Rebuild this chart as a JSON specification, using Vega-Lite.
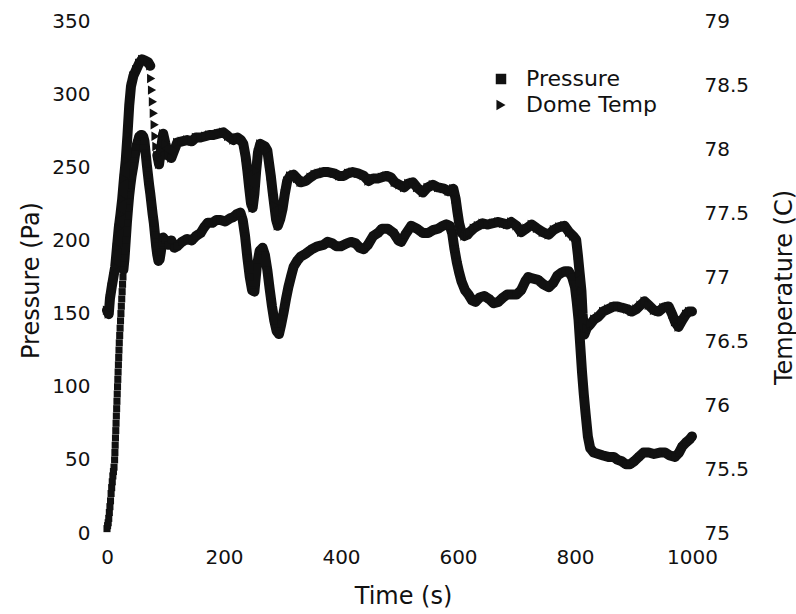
{
  "$schema": "https://vega.github.io/schema/vega-lite/v6.json",
  "width": 585,
  "height": 512,
  "autosize": {"type": "none"},
  "padding": {"left": 107, "top": 21, "right": 104, "bottom": 81},
  "background": "white",
  "config": {
    "view": {"stroke": null},
    "font": "DejaVu Sans",
    "axis": {
      "domain": false,
      "ticks": false,
      "grid": false,
      "labelFlush": false,
      "labelFont": "DejaVu Sans",
      "labelFontSize": 20,
      "labelColor": "#111",
      "titleFont": "DejaVu Sans",
      "titleFontSize": 24,
      "titleFontWeight": "normal",
      "titleColor": "#111"
    }
  },
  "datasets": {
    "pressure": [
      {"t":0,"p":3},{"t":1,"p":5},{"t":2,"p":7},{"t":3,"p":10},{"t":4,"p":14},{"t":5,"p":18},{"t":6,"p":22},{"t":7,"p":27},{"t":8,"p":31},{"t":9,"p":35},{"t":10,"p":39},{"t":11,"p":42},{"t":12,"p":45},
      {"t":13,"p":50},{"t":13.5,"p":55},{"t":14,"p":60},{"t":14.5,"p":65},{"t":15,"p":70},{"t":15.5,"p":75},{"t":16,"p":80},{"t":16.5,"p":85},{"t":17,"p":90},{"t":17.5,"p":95},{"t":18,"p":100},{"t":18.5,"p":105},{"t":19,"p":110},{"t":19.5,"p":115},{"t":20,"p":120},{"t":20.5,"p":125},{"t":21,"p":130},{"t":21.7,"p":135},{"t":22.4,"p":140},{"t":23.1,"p":145},{"t":23.8,"p":150},{"t":24.5,"p":155},{"t":25.2,"p":160},{"t":25.9,"p":165},{"t":26.6,"p":170},{"t":27.3,"p":175},{"t":28,"p":180},
      {"t":30,"p":188},{"t":32,"p":200},{"t":34,"p":212},{"t":36,"p":222},{"t":38,"p":231},{"t":40,"p":238},{"t":42,"p":244},{"t":45,"p":251},{"t":48,"p":259},{"t":50,"p":264},{"t":53,"p":268},{"t":55,"p":271},{"t":58,"p":272},{"t":60,"p":272},{"t":62,"p":271},{"t":64,"p":268},{"t":66,"p":260},{"t":68,"p":252},{"t":70,"p":245},{"t":72,"p":238},{"t":74,"p":232},{"t":76,"p":225},{"t":78,"p":218},{"t":80,"p":212},{"t":82,"p":204},{"t":84,"p":196},{"t":86,"p":190},{"t":88,"p":186},{"t":90,"p":187},{"t":92,"p":192},{"t":94,"p":198},{"t":96,"p":202},{"t":100,"p":200},{"t":105,"p":197},{"t":110,"p":200},{"t":115,"p":195},{"t":120,"p":196},{"t":128,"p":199},{"t":137,"p":201},{"t":145,"p":200},{"t":152,"p":203},{"t":160,"p":205},{"t":166,"p":209},{"t":172,"p":212},{"t":180,"p":212},{"t":187,"p":214},{"t":194,"p":214},{"t":202,"p":213},{"t":210,"p":215},{"t":216,"p":216},{"t":222,"p":218},{"t":228,"p":219},{"t":232,"p":214},{"t":236,"p":203},{"t":240,"p":188},{"t":244,"p":175},{"t":248,"p":166},{"t":252,"p":165},{"t":256,"p":182},{"t":261,"p":193},{"t":266,"p":195},{"t":270,"p":190},{"t":274,"p":180},{"t":278,"p":167},{"t":282,"p":155},{"t":286,"p":145},{"t":290,"p":138},{"t":294,"p":136},{"t":298,"p":143},{"t":302,"p":151},{"t":306,"p":160},{"t":310,"p":168},{"t":315,"p":176},{"t":319,"p":182},{"t":325,"p":186},{"t":331,"p":189},{"t":340,"p":191},{"t":350,"p":194},{"t":360,"p":196},{"t":370,"p":197},{"t":377,"p":199},{"t":385,"p":198},{"t":392,"p":196},{"t":400,"p":196},{"t":410,"p":198},{"t":417,"p":199},{"t":425,"p":198},{"t":432,"p":195},{"t":439,"p":194},{"t":446,"p":197},{"t":455,"p":203},{"t":463,"p":205},{"t":470,"p":208},{"t":480,"p":208},{"t":490,"p":205},{"t":498,"p":200},{"t":503,"p":199},{"t":510,"p":204},{"t":520,"p":210},{"t":530,"p":208},{"t":540,"p":205},{"t":549,"p":205},{"t":557,"p":207},{"t":566,"p":208},{"t":574,"p":210},{"t":580,"p":211},{"t":586,"p":210},{"t":590,"p":205},{"t":594,"p":194},{"t":598,"p":185},{"t":602,"p":178},{"t":606,"p":172},{"t":612,"p":166},{"t":618,"p":163},{"t":624,"p":159},{"t":630,"p":158},{"t":637,"p":161},{"t":645,"p":162},{"t":653,"p":160},{"t":661,"p":157},{"t":669,"p":158},{"t":677,"p":161},{"t":684,"p":163},{"t":691,"p":163},{"t":700,"p":163},{"t":708,"p":166},{"t":715,"p":172},{"t":720,"p":175},{"t":727,"p":174},{"t":737,"p":173},{"t":746,"p":170},{"t":755,"p":168},{"t":763,"p":171},{"t":770,"p":176},{"t":777,"p":178},{"t":783,"p":179},{"t":789,"p":179},{"t":795,"p":175},{"t":800,"p":168},{"t":803,"p":158},{"t":806,"p":146},{"t":809,"p":128},{"t":812,"p":110},{"t":815,"p":95},{"t":818,"p":82},{"t":822,"p":66},{"t":826,"p":58},{"t":832,"p":55},{"t":840,"p":54},{"t":848,"p":53},{"t":857,"p":52},{"t":866,"p":52},{"t":873,"p":50},{"t":880,"p":49},{"t":887,"p":47},{"t":894,"p":47},{"t":901,"p":49},{"t":909,"p":52},{"t":917,"p":55},{"t":926,"p":55},{"t":935,"p":54},{"t":945,"p":55},{"t":954,"p":55},{"t":962,"p":53},{"t":971,"p":52},{"t":978,"p":55},{"t":983,"p":59},{"t":990,"p":62},{"t":996,"p":64},{"t":1000,"p":66}
    ],
    "temp": [
      {"t":0,"c":76.74},{"t":3,"c":76.71},{"t":5,"c":76.83},{"t":8,"c":76.92},{"t":11,"c":77.0},{"t":14,"c":77.08},{"t":17,"c":77.23},{"t":20,"c":77.38},{"t":23,"c":77.49},{"t":26,"c":77.61},{"t":29,"c":77.77},{"t":32,"c":77.91},{"t":35,"c":78.11},{"t":38,"c":78.34},{"t":41,"c":78.49},{"t":45,"c":78.57},{"t":50,"c":78.62},{"t":55,"c":78.67},{"t":60,"c":78.7},{"t":65,"c":78.69},{"t":70,"c":78.68},{"t":74,"c":78.65},{"t":75.5,"c":78.55},{"t":77,"c":78.46},{"t":78.5,"c":78.37},{"t":80,"c":78.28},{"t":81.5,"c":78.19},{"t":83,"c":78.1},{"t":84.5,"c":78.02},{"t":86,"c":77.95},{"t":89,"c":77.88},{"t":92,"c":77.99},{"t":96,"c":78.12},{"t":100,"c":78.04},{"t":105,"c":77.95},{"t":110,"c":77.93},{"t":115,"c":77.99},{"t":120,"c":78.05},{"t":128,"c":78.06},{"t":137,"c":78.07},{"t":145,"c":78.06},{"t":152,"c":78.09},{"t":160,"c":78.09},{"t":168,"c":78.1},{"t":175,"c":78.11},{"t":182,"c":78.11},{"t":190,"c":78.12},{"t":199,"c":78.13},{"t":207,"c":78.1},{"t":216,"c":78.07},{"t":223,"c":78.09},{"t":229,"c":78.07},{"t":233,"c":78.04},{"t":237,"c":77.94},{"t":240,"c":77.83},{"t":243,"c":77.7},{"t":246,"c":77.58},{"t":249,"c":77.54},{"t":252,"c":77.65},{"t":255,"c":77.83},{"t":258,"c":77.97},{"t":262,"c":78.04},{"t":266,"c":78.03},{"t":270,"c":78.02},{"t":274,"c":77.99},{"t":277,"c":77.89},{"t":280,"c":77.79},{"t":283,"c":77.67},{"t":286,"c":77.56},{"t":289,"c":77.45},{"t":292,"c":77.4},{"t":296,"c":77.45},{"t":300,"c":77.53},{"t":304,"c":77.65},{"t":308,"c":77.75},{"t":313,"c":77.79},{"t":319,"c":77.8},{"t":325,"c":77.77},{"t":331,"c":77.74},{"t":340,"c":77.75},{"t":348,"c":77.78},{"t":355,"c":77.8},{"t":362,"c":77.81},{"t":370,"c":77.82},{"t":378,"c":77.82},{"t":388,"c":77.81},{"t":397,"c":77.79},{"t":405,"c":77.79},{"t":412,"c":77.81},{"t":420,"c":77.82},{"t":429,"c":77.81},{"t":439,"c":77.79},{"t":447,"c":77.75},{"t":455,"c":77.77},{"t":463,"c":77.77},{"t":470,"c":77.78},{"t":478,"c":77.79},{"t":485,"c":77.78},{"t":492,"c":77.74},{"t":500,"c":77.72},{"t":508,"c":77.7},{"t":515,"c":77.73},{"t":523,"c":77.74},{"t":530,"c":77.7},{"t":540,"c":77.66},{"t":548,"c":77.7},{"t":557,"c":77.72},{"t":566,"c":77.7},{"t":576,"c":77.69},{"t":584,"c":77.67},{"t":592,"c":77.69},{"t":596,"c":77.61},{"t":599,"c":77.51},{"t":602,"c":77.42},{"t":606,"c":77.35},{"t":611,"c":77.32},{"t":616,"c":77.33},{"t":620,"c":77.35},{"t":627,"c":77.38},{"t":634,"c":77.4},{"t":642,"c":77.42},{"t":650,"c":77.41},{"t":660,"c":77.42},{"t":669,"c":77.43},{"t":677,"c":77.42},{"t":684,"c":77.41},{"t":691,"c":77.43},{"t":700,"c":77.4},{"t":708,"c":77.35},{"t":717,"c":77.38},{"t":726,"c":77.41},{"t":735,"c":77.38},{"t":745,"c":77.35},{"t":755,"c":77.33},{"t":764,"c":77.37},{"t":773,"c":77.39},{"t":782,"c":77.4},{"t":790,"c":77.35},{"t":797,"c":77.32},{"t":802,"c":77.29},{"t":805,"c":77.17},{"t":808,"c":77.03},{"t":811,"c":76.89},{"t":813,"c":76.71},{"t":816,"c":76.55},{"t":820,"c":76.6},{"t":826,"c":76.63},{"t":833,"c":76.67},{"t":840,"c":76.69},{"t":848,"c":76.73},{"t":857,"c":76.75},{"t":866,"c":76.77},{"t":873,"c":76.77},{"t":880,"c":76.76},{"t":889,"c":76.75},{"t":897,"c":76.73},{"t":905,"c":76.75},{"t":912,"c":76.78},{"t":919,"c":76.81},{"t":926,"c":76.78},{"t":935,"c":76.74},{"t":943,"c":76.73},{"t":951,"c":76.76},{"t":960,"c":76.77},{"t":966,"c":76.71},{"t":971,"c":76.65},{"t":977,"c":76.61},{"t":983,"c":76.66},{"t":990,"c":76.71},{"t":995,"c":76.73},{"t":1000,"c":76.73}
    ]
  },
  "encoding": {
    "x": {
      "field": "t",
      "type": "quantitative",
      "scale": {"domain": [0, 1000], "nice": false},
      "axis": {
        "values": [0, 200, 400, 600, 800, 1000],
        "format": "d",
        "title": "Time (s)",
        "labelPadding": 14,
        "titleX": 296,
        "titleY": 63,
        "titleBaseline": "middle",
        "titleAlign": "center"
      }
    }
  },
  "layer": [
    {
      "data": {"name": "pressure"},
      "encoding": {
        "y": {
          "field": "p",
          "type": "quantitative",
          "scale": {"domain": [0, 350], "nice": false},
          "axis": {
            "orient": "left",
            "values": [0, 50, 100, 150, 200, 250, 300, 350],
            "title": "Pressure (Pa)",
            "labelPadding": 17,
            "titleAngle": -90,
            "titleX": -76,
            "titleY": 259,
            "titleBaseline": "middle",
            "titleAlign": "center"
          }
        }
      },
      "layer": [
        {
          "transform": [{"filter": "datum.t >= 28"}],
          "mark": {"type": "line", "color": "#111", "strokeWidth": 10, "strokeJoin": "round", "strokeCap": "round"}
        },
        {
          "mark": {"type": "point", "filled": true, "color": "#111", "size": 50, "opacity": 1},
          "encoding": {
            "shape": {
              "datum": "Pressure",
              "scale": {"domain": ["Pressure", "Dome Temp"], "range": ["square", "triangle-right"]},
              "legend": {
                "orient": "none",
                "legendX": 383,
                "legendY": 47,
                "title": null,
                "padding": 0,
                "labelFont": "DejaVu Sans",
                "labelFontSize": 22,
                "labelColor": "#111",
                "labelOffset": 14,
                "rowPadding": 4,
                "symbolSize": 110,
                "symbolFillColor": "#111",
                "symbolStrokeColor": "#111"
              }
            }
          }
        }
      ]
    },
    {
      "data": {"name": "temp"},
      "encoding": {
        "y": {
          "field": "c",
          "type": "quantitative",
          "scale": {"domain": [75, 79], "nice": false, "zero": false},
          "axis": {
            "orient": "right",
            "values": [75, 75.5, 76, 76.5, 77, 77.5, 78, 78.5, 79],
            "format": "~g",
            "title": "Temperature (C)",
            "labelPadding": 12,
            "titleAngle": -90,
            "titleX": 92,
            "titleY": 266,
            "titleBaseline": "middle",
            "titleAlign": "center"
          }
        }
      },
      "layer": [
        {
          "transform": [{"filter": "datum.t <= 74"}],
          "mark": {"type": "line", "color": "#111", "strokeWidth": 10, "strokeJoin": "round", "strokeCap": "round"}
        },
        {
          "transform": [{"filter": "datum.t >= 86"}],
          "mark": {"type": "line", "color": "#111", "strokeWidth": 10, "strokeJoin": "round", "strokeCap": "round"}
        },
        {
          "mark": {"type": "point", "filled": true, "color": "#111", "size": 90, "opacity": 1},
          "encoding": {"shape": {"datum": "Dome Temp"}}
        }
      ]
    }
  ],
  "resolve": {"scale": {"y": "independent"}}
}
